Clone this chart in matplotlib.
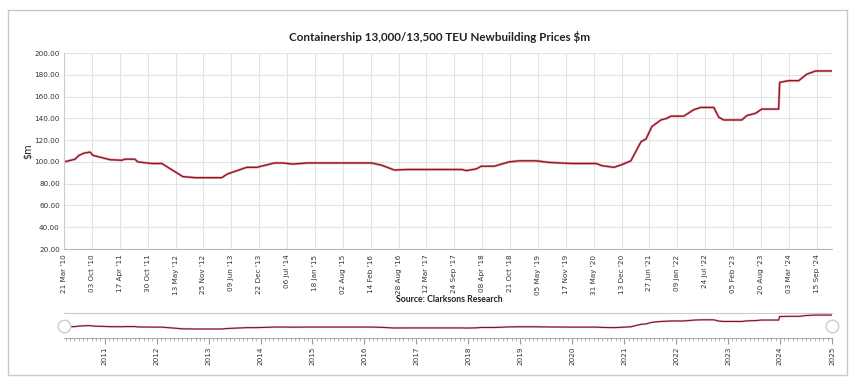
import matplotlib
matplotlib.use("Agg")
import matplotlib.pyplot as plt
import matplotlib.dates as mdates
from matplotlib.patches import Rectangle
import datetime as dt

# ---- data ----
dates = ["2010-03-21", "2010-06-06", "2010-07-04", "2010-08-08", "2010-09-20", "2010-10-11",
         "2011-02-07", "2011-05-02", "2011-05-23", "2011-08-01", "2011-08-22", "2011-11-29",
         "2012-02-07", "2012-07-03", "2012-09-26", "2013-04-03", "2013-05-15", "2013-09-26",
         "2013-12-05", "2014-04-10", "2014-06-05", "2014-08-15", "2014-11-28", "2016-02-20",
         "2016-04-30", "2016-07-30", "2016-10-22", "2017-11-19", "2017-12-17", "2018-02-25",
         "2018-04-01", "2018-07-02", "2018-10-15", "2018-12-24", "2019-04-22", "2019-07-23",
         "2019-12-31", "2020-06-17", "2020-07-29", "2020-10-21", "2020-12-16", "2021-02-17",
         "2021-04-29", "2021-06-03", "2021-07-15", "2021-09-16", "2021-10-28", "2021-11-25",
         "2022-02-24", "2022-05-06", "2022-06-24", "2022-09-23", "2022-10-28", "2022-12-02",
         "2023-04-08", "2023-05-13", "2023-07-15", "2023-08-26", "2023-12-23", "2023-12-30",
         "2024-03-03", "2024-05-12", "2024-07-07", "2024-09-08", "2024-12-29"]
prices = [100.0, 102.4, 106.0, 108.0, 109.0, 106.0,
          102.0, 101.5, 102.5, 102.5, 100.0, 98.5,
          98.5, 86.5, 85.5, 85.5, 89.0, 95.0,
          95.0, 99.0, 99.0, 98.0, 99.0, 99.0,
          97.0, 92.5, 93.0, 93.0, 92.0, 93.5,
          96.0, 96.0, 100.0, 101.0, 101.0, 99.5,
          98.5, 98.5, 96.5, 95.0, 97.5, 101.0,
          118.5, 121.0, 132.5, 138.5, 140.0, 142.0,
          142.0, 148.0, 150.0, 150.0, 141.0, 138.5,
          138.5, 142.5, 144.7, 148.5, 148.5, 173.0,
          174.6, 174.6, 180.5, 183.5, 183.5]

tick_dates = ["2010-03-21", "2010-10-03", "2011-04-17", "2011-10-30", "2012-05-13", "2012-11-25",
              "2013-06-09", "2013-12-22", "2014-07-06", "2015-01-18", "2015-08-02", "2016-02-14",
              "2016-08-28", "2017-03-12", "2017-09-24", "2018-04-08", "2018-10-21", "2019-05-05",
              "2019-11-17", "2020-05-31", "2020-12-13", "2021-06-27", "2022-01-09", "2022-07-24",
              "2023-02-05", "2023-08-20", "2024-03-03", "2024-09-15"]
tick_labels = ["21 Mar '10", "03 Oct '10", "17 Apr '11", "30 Oct '11", "13 May '12", "25 Nov '12",
               "09 Jun '13", "22 Dec '13", "06 Jul '14", "18 Jan '15", "02 Aug '15", "14 Feb '16",
               "28 Aug '16", "12 Mar '17", "24 Sep '17", "08 Apr '18", "21 Oct '18", "05 May '19",
               "17 Nov '19", "31 May '20", "13 Dec '20", "27 Jun '21", "09 Jan '22", "24 Jul '22",
               "05 Feb '23", "20 Aug '23", "03 Mar '24", "15 Sep '24"]
y_ticks = [20, 40, 60, 80, 100, 120, 140, 160, 180, 200]
nav_years = list(range(2011, 2026))

title = "Containership 13,000/13,500 TEU Newbuilding Prices $m"
source = "Source: Clarksons Research"
ylabel = "$m"

# ---- figure ----
W, H = 857, 385
fig = plt.figure(figsize=(W / 100, H / 100), dpi=100)
fig.patch.set_facecolor("white")

def fx(px):
    return px / W

def fy(py):
    return 1 - py / H

x = [dt.datetime.strptime(d, "%Y-%m-%d") for d in dates]
tx = [dt.datetime.strptime(d, "%Y-%m-%d") for d in tick_dates]
xmin = x[0]
xmax = dt.datetime(2025, 1, 1)

# outer border
fig.add_artist(Rectangle((fx(8), fy(375)), fx(847) - fx(8), fy(10) - fy(375),
                         transform=fig.transFigure, fill=False, edgecolor="#c8c8c8", lw=1.0))

line_col = "#8e1729"
text_col = "#333333"
grid_col = "#e3e3e3"

# main axes
ax = fig.add_axes([fx(64), fy(249), fx(832) - fx(64), fy(53) - fy(249)])
ax.plot(x, prices, color="#e05565", lw=1.9, alpha=0.45, solid_joinstyle="round")
ax.plot(x, prices, color=line_col, lw=1.0, solid_joinstyle="round")
ax.set_xlim(xmin, xmax)
ax.set_ylim(20, 200)
ax.set_yticks(y_ticks)
ax.set_yticklabels([f"{v:.2f}" for v in y_ticks], fontsize=5.2, color=text_col)
ax.set_xticks(tx)
ax.set_xticklabels(tick_labels, rotation=90, fontsize=5.2, color=text_col)
ax.tick_params(axis="both", length=0, pad=3)
ax.tick_params(axis="x", pad=4)
ax.grid(True, color=grid_col, lw=0.8)
ax.set_axisbelow(True)
for s in ["top", "right"]:
    ax.spines[s].set_visible(False)
ax.spines["left"].set_color("#cccccc")
ax.spines["bottom"].set_color("#b8b8b8")
ax.spines["left"].set_linewidth(0.8)
ax.spines["bottom"].set_linewidth(0.8)

fig.text(fx(28), fy(151), ylabel, rotation=90, ha="center", va="center", fontsize=7, color="#222222")
fig.text(fx(440), fy(37), title, ha="center", va="center", fontsize=8.4,
         fontweight="bold", family="Lato", color="#222222")
fig.text(fx(449), fy(299), source, ha="center", va="center", fontsize=6.3,
         fontweight="bold", family="Lato", color="#222222")

# navigator
nav = fig.add_axes([fx(64), fy(338), fx(832) - fx(64), fy(313) - fy(338)])
nav.plot(x, prices, color="#e05565", lw=1.5, alpha=0.4)
nav.plot(x, prices, color="#7a1424", lw=0.8)
nav.set_xlim(xmin, xmax)
nav.set_ylim(22, 198)
nav.set_yticks([])
yt = [dt.datetime(y, 1, 1) for y in nav_years]
nav.set_xticks(yt)
nav.set_xticklabels([str(y) for y in nav_years], rotation=90, fontsize=5.2, color=text_col)
nav.xaxis.set_minor_locator(mdates.MonthLocator())
nav.tick_params(axis="x", which="major", length=4, color="#999999", pad=2)
nav.tick_params(axis="x", which="minor", length=2, color="#aaaaaa")
for s in ["left", "right"]:
    nav.spines[s].set_visible(False)
nav.spines["top"].set_color("#cccccc")
nav.spines["bottom"].set_color("#aaaaaa")
nav.spines["top"].set_linewidth(0.8)
nav.spines["bottom"].set_linewidth(0.8)

# navigator handles
for hx, hy in [(64, 326), (832, 326)]:
    fig.add_artist(plt.Line2D([fx(hx)], [fy(hy)], marker="o", markersize=9,
                              markerfacecolor="white", markeredgecolor="#cccccc",
                              markeredgewidth=1.0, transform=fig.transFigure))

fig.savefig("out.png", dpi=100)
